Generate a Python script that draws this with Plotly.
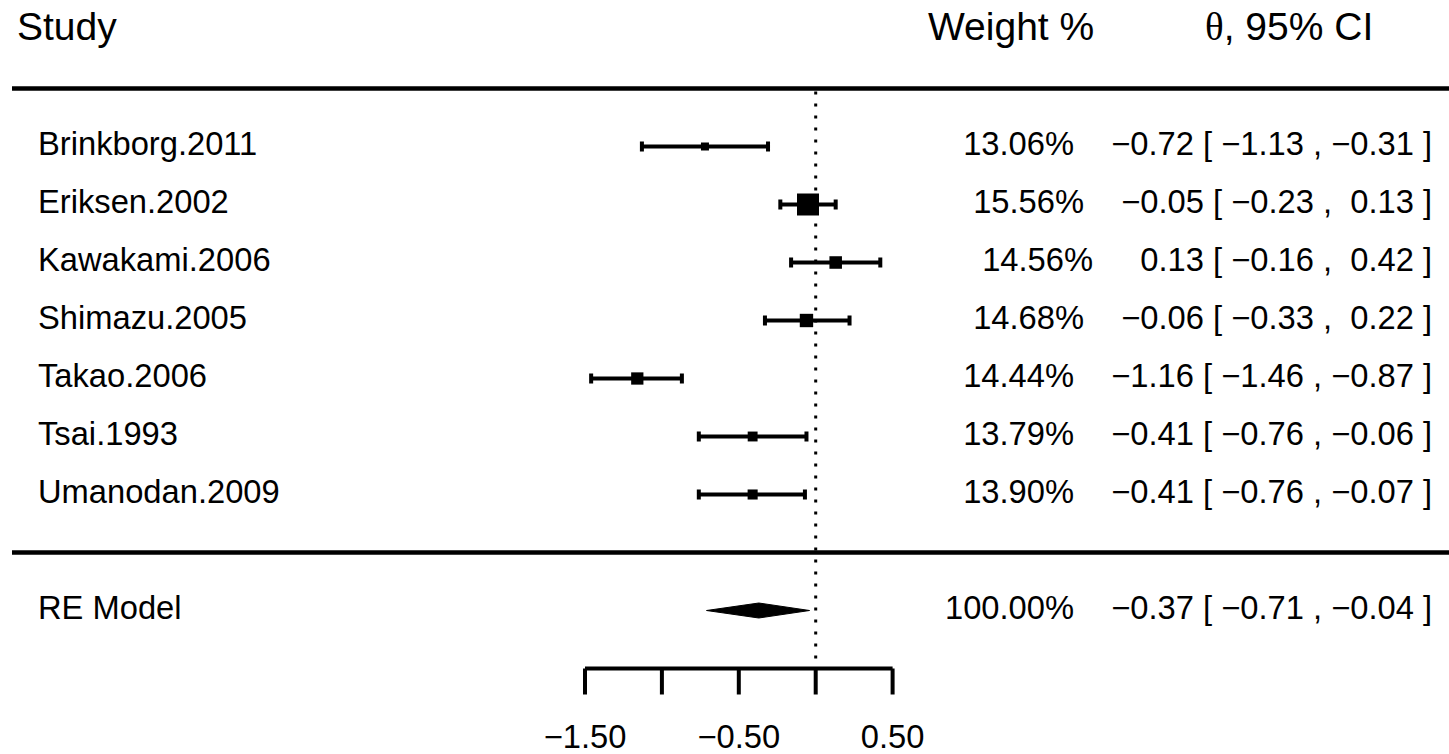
import plotly.graph_objects as go

# ---------------- data ----------------
studies = ["Brinkborg.2011", "Eriksen.2002", "Kawakami.2006", "Shimazu.2005",
           "Takao.2006", "Tsai.1993", "Umanodan.2009"]
estimates = [-0.72, -0.05, 0.13, -0.06, -1.16, -0.41, -0.41]
ci_low = [-1.13, -0.23, -0.16, -0.33, -1.46, -0.76, -0.76]
ci_high = [-0.31, 0.13, 0.42, 0.22, -0.87, -0.06, -0.07]
weights = [13.06, 15.56, 14.56, 14.68, 14.44, 13.79, 13.90]

model_label = "RE Model"
model_est = -0.37
model_low = -0.71
model_high = -0.04
model_weight = 100.00

tick_values = [-1.5, -1.0, -0.5, 0.0, 0.5]
tick_label_values = [-1.5, -0.5, 0.5]
tick_labels = ["\u22121.50", "\u22120.50", "0.50"]

headers = ["Study", "Weight %", "\u03b8, 95% CI"]

# ---------------- layout helpers (pixels -> axis units) ----------------
W, H = 1449, 754
X0_PX, X_UNIT = 815.7, 153.8          # pixel of x=0, pixels per unit
ROW1_PX, ROW_PX = 146.5, 58.0         # pixel of first row, pixels per row


def px2x(px):
    return (px - X0_PX) / X_UNIT


x_range = [px2x(0), px2x(W)]
y_range = [1 + (H - ROW1_PX) / ROW_PX, 1 - ROW1_PX / ROW_PX]

FONT = "Liberation Sans, Arial, sans-serif"
BLACK = "black"
ROW_FONT = 32.7
HEAD_FONT = 39

n = len(studies)
rows = list(range(1, n + 1))
model_row = n + 2
sep_top = 0
sep_bottom = n + 1
axis_row = n + 3
NB = "\u00a0"


def fmt(v):
    return f"{v:5.2f}".replace("-", "\u2212").replace(" ", NB)


def ci_string(e, l, h):
    return f"{fmt(e).strip(NB)} [{NB}{fmt(l)} , {fmt(h)}{NB}]"


ci_text = [ci_string(e, l, h) for e, l, h in zip(estimates, ci_low, ci_high)]
model_ci_text = ci_string(model_est, model_low, model_high)
weight_text = [f"{w:.2f}%" for w in weights]

# marker size from precision (metafor-style scaling)
prec = [1.0 / ((h - l) / (2 * 1.96)) for l, h in zip(ci_low, ci_high)]
pmin, pmax = min(prec), max(prec)
marker_sizes = [8 + (p - pmin) / (pmax - pmin) * 14 for p in prec]

# per-row horizontal position of the weight column (right edge, px)
weight_right_px = [1074, 1084, 1093, 1084, 1074, 1074, 1074]

fig = go.Figure()

# dotted reference line at 0
fig.add_trace(go.Scatter(x=[0, 0], y=[sep_top + 0.05, axis_row], mode="lines",
                         line=dict(color=BLACK, width=3, dash="3px,9px"),
                         hoverinfo="skip"))

# study estimates with CI
fig.add_trace(go.Scatter(
    x=estimates, y=rows, mode="markers",
    marker=dict(symbol="square", size=marker_sizes, color=BLACK, opacity=1,
                line=dict(width=0)),
    error_x=dict(type="data", symmetric=False,
                 array=[h - e for e, h in zip(estimates, ci_high)],
                 arrayminus=[e - l for e, l in zip(estimates, ci_low)],
                 color=BLACK, thickness=4, width=5),
    hoverinfo="skip"))

# summary diamond
dh = 7.5 / ROW_PX
fig.add_trace(go.Scatter(
    x=[model_low, model_est, model_high, model_est, model_low],
    y=[model_row, model_row - dh, model_row, model_row + dh, model_row],
    mode="lines", fill="toself", fillcolor=BLACK,
    line=dict(color=BLACK, width=1), hoverinfo="skip"))

# bottom axis
ax_x, ax_y = [tick_values[0], tick_values[-1]], [axis_row, axis_row]
for t in tick_values:
    ax_x += [None, t, t]
    ax_y += [None, axis_row, axis_row + 26 / ROW_PX]
fig.add_trace(go.Scatter(x=ax_x, y=ax_y, mode="lines",
                         line=dict(color=BLACK, width=4), hoverinfo="skip"))
fig.add_trace(go.Scatter(x=tick_label_values, y=[axis_row + 71 / ROW_PX] * len(tick_label_values),
                         mode="text", text=tick_labels, textposition="middle center",
                         textfont=dict(family=FONT, size=ROW_FONT, color=BLACK),
                         hoverinfo="skip"))

# study labels
fig.add_trace(go.Scatter(x=[px2x(38)] * (n + 1), y=rows + [model_row], mode="text",
                         text=studies + [model_label], textposition="middle right",
                         textfont=dict(family=FONT, size=ROW_FONT, color=BLACK),
                         hoverinfo="skip"))

# weights
fig.add_trace(go.Scatter(x=[px2x(p) for p in weight_right_px] + [px2x(1074)],
                         y=rows + [model_row], mode="text",
                         text=weight_text + [f"{model_weight:.2f}%"],
                         textposition="middle left",
                         textfont=dict(family=FONT, size=ROW_FONT, color=BLACK),
                         hoverinfo="skip"))

# CI text
fig.add_trace(go.Scatter(x=[px2x(1432)] * (n + 1), y=rows + [model_row], mode="text",
                         text=ci_text + [model_ci_text],
                         textposition="middle left",
                         textfont=dict(family=FONT, size=ROW_FONT, color=BLACK),
                         hoverinfo="skip"))

# headers
head_text = [headers[0], headers[1],
             '<span style="font-family:Liberation Serif, Times New Roman, serif">\u03b8</span>'
             + headers[2][1:]]
fig.add_trace(go.Scatter(x=[px2x(17), px2x(928), px2x(1205)], y=[-1, -1, -1], mode="text",
                         text=head_text, textposition="middle right",
                         textfont=dict(family=FONT, size=HEAD_FONT, color=BLACK),
                         hoverinfo="skip"))

# horizontal rules
for yv in [sep_top, sep_bottom]:
    fig.add_shape(type="line", xref="paper", yref="y", x0=12 / W, x1=1, y0=yv, y1=yv,
                  line=dict(color=BLACK, width=4.5))

fig.update_layout(
    width=W, height=H, margin=dict(l=0, r=0, t=0, b=0),
    paper_bgcolor="white", plot_bgcolor="white", showlegend=False,
    xaxis=dict(range=x_range, visible=False, fixedrange=True),
    yaxis=dict(range=y_range, visible=False, fixedrange=True),
)

fig.write_html("out.html", config={"displayModeBar": False},
               post_script="document.body.style.margin='0px';document.body.style.overflow='hidden';")
